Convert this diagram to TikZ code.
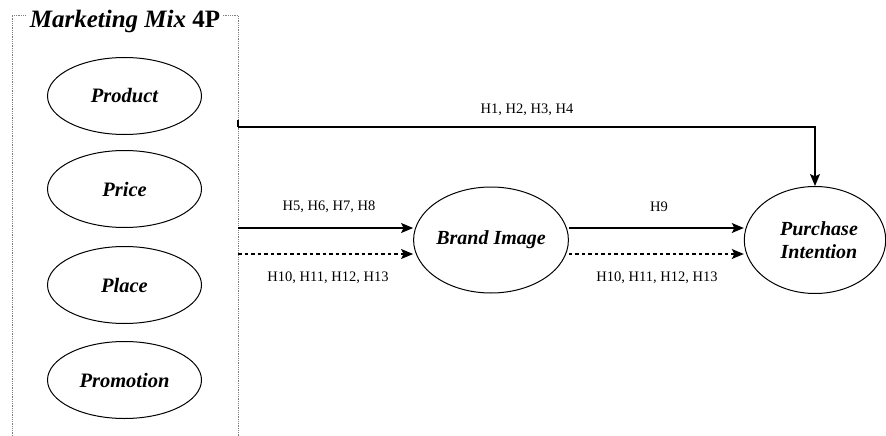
\documentclass[tikz,border=0pt]{standalone}
\usepackage{fontspec}
\setmainfont{Liberation Serif}
\usetikzlibrary{shapes.geometric,arrows.meta}
\begin{document}
\begin{tikzpicture}[x=1pt,y=-1pt,
  mixell/.style={draw, ellipse, line width=1pt, minimum width=154pt, minimum height=77pt, inner sep=0pt, font=\fontsize{20.5}{24}\selectfont\bfseries\itshape},
  bigell/.style={draw, ellipse, line width=1pt, inner sep=0pt, font=\fontsize{20}{24}\selectfont\bfseries\itshape, align=center},
  hlabel/.style={font=\fontsize{14.5}{17}\selectfont, inner sep=0pt},
  conn/.style={line width=1.2pt, -{Stealth[length=12pt,width=10pt,inset=2.5pt]}},
  dconn/.style={conn, dash pattern=on 3.5pt off 3pt}
]
\useasboundingbox (0,0) rectangle (886,436);
% dotted frame
\draw[gray, densely dotted, line width=0.8pt] (12,445) -- (12,15) -- (238,15) -- (238,445);
\node[fill=white, inner xsep=3pt, inner ysep=1pt, font=\fontsize{25}{30}\selectfont\bfseries] (title) at (125,21) {\textit{Marketing Mix} 4P};
% mix ellipses
\node[mixell] (product) at (124.5,96) {Product};
\node[mixell] (price) at (124.5,189) {Price};
\node[mixell] (place) at (124.5,285) {Place};
\node[mixell] (promotion) at (124.5,380) {Promotion};
% outcome ellipses
\node[bigell, minimum width=153pt, minimum height=106pt] (brand) at (491,240) {Brand Image};
\node[bigell, minimum width=138pt, minimum height=107pt, text width=100pt, align=center] (purchase) at (815,240) {\hspace*{8pt}Purchase\\[-1pt]\hspace*{8pt}Intention};
% connector start points on the frame
\coordinate (s1) at (238,127);
\coordinate (s2) at (238,228);
\coordinate (s3) at (238,254);
\coordinate (b2) at (brand.east |- 0,228);
\coordinate (b3) at (brand.east |- 0,254);
% connectors
\draw[line width=1.2pt] (238,120) -- (s1);
\draw[conn] (s1) -| (purchase.north);
\draw[conn] (s2) -- (s2 -| brand.west);
\draw[dconn] (s3) -- (s3 -| brand.west);
\draw[conn] (b2) -- (b2 -| purchase.west);
\draw[dconn] (b3) -- (b3 -| purchase.west);
% labels
\node[hlabel] (l1) at (527,110) {H1, H2, H3, H4};
\node[hlabel] (l2) at (329,207) {H5, H6, H7, H8};
\node[hlabel] (l3) at (328,278) {H10, H11, H12, H13};
\node[hlabel] (l4) at (659,207) {H9};
\node[hlabel] (l5) at (657,278) {H10, H11, H12, H13};
\end{tikzpicture}
\end{document}
